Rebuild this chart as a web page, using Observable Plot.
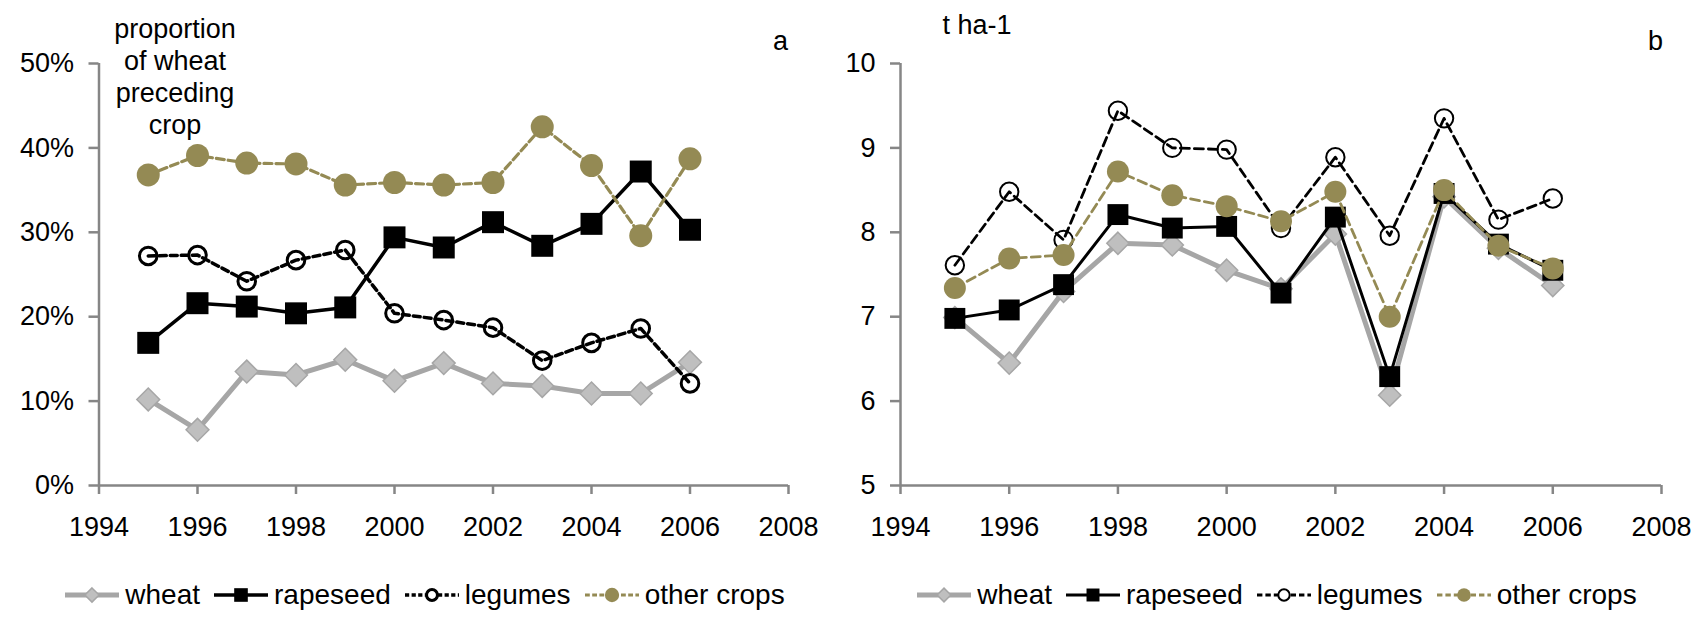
<!DOCTYPE html>
<html><head><meta charset="utf-8">
<script src="https://cdn.jsdelivr.net/npm/d3@7"></script>
<script src="https://cdn.jsdelivr.net/npm/@observablehq/plot@0.6"></script>
<style>
body{margin:0;background:#fff;font-family:"Liberation Sans",Arial,sans-serif;}
#wrap{display:flex;width:1700px;height:620px;overflow:hidden}
.panel{height:620px;}
.legend{display:flex;justify-content:center;align-items:center;height:50px;font-size:28px;color:#000;white-space:nowrap}
.legend .item{display:flex;align-items:center;margin:0 7px}
.legend svg{margin-right:6px}
</style></head><body><div id="wrap"></div>
<script>
const years = [1995,1996,1997,1998,1999,2000,2001,2002,2003,2004,2005,2006];
const seriesNames = ["wheat","rapeseed","legumes","other crops"];
const xTicks = [1994,1996,1998,2000,2002,2004,2006,2008];
const shareTicks = [0,0.1,0.2,0.3,0.4,0.5];
const yieldTicks = [5,6,7,8,9,10];

// panel a: proportion of wheat preceding crop
const shareWheat    = [0.102,0.066,0.135,0.131,0.149,0.124,0.145,0.121,0.118,0.109,0.109,0.146];
const shareRapeseed = [0.169,0.216,0.212,0.204,0.211,0.294,0.282,0.312,0.284,0.310,0.372,0.303];
const shareLegumes  = [0.272,0.273,0.242,0.267,0.279,0.204,0.196,0.187,0.148,0.169,0.186,0.121];
const shareOther    = [0.368,0.391,0.382,0.381,0.356,0.359,0.356,0.359,0.425,0.379,0.296,0.387];

// panel b: yield, t ha-1
const yieldWheat    = [6.99,6.45,7.30,7.87,7.85,7.55,7.33,7.98,6.07,8.42,7.81,7.37];
const yieldRapeseed = [6.98,7.08,7.38,8.21,8.05,8.07,7.28,8.18,6.29,8.46,7.86,7.55];
const yieldLegumes  = [7.61,8.48,7.91,9.44,9.00,8.98,8.05,8.89,7.96,9.35,8.15,8.40];
const yieldOther    = [7.34,7.69,7.73,8.72,8.44,8.31,8.13,8.48,7.00,8.50,7.84,7.57];

const OLIVE = "#948A54", GRAY_LINE = "#A6A6A6", GRAY_FILL = "#BFBFBF", AXIS = "#868686";
const FONT = "'Liberation Sans', Arial, sans-serif";

function rows(arrays){
  const out = [];
  arrays.forEach((vals, i) => vals.forEach((v, j) => out.push({series: seriesNames[i], year: years[j], value: v})));
  return out;
}

function styles(panel){
  const a = panel === "a";
  return {
    "wheat":      {stroke: GRAY_LINE, sw: 5, dash: null, symbol: "diamond2", r: a ? 10.3 : 10, fill: GRAY_FILL, mstroke: GRAY_LINE, msw: 1.5},
    "rapeseed":   {stroke: "#000", sw: a ? 3.5 : 3, dash: null, symbol: "square", r: a ? 12.4 : 11.8, fill: "#000", mstroke: "none", msw: 0},
    "legumes":    {stroke: "#000", sw: a ? 3.5 : 2.8, dash: a ? "7,4" : "9,5", symbol: "circle", r: a ? 8.8 : 9.2, fill: "none", mstroke: "#000", msw: a ? 3 : 2},
    "other crops":{stroke: OLIVE, sw: a ? 3.2 : 2.8, dash: a ? "8,4" : "9,5", symbol: "circle", r: a ? 11.5 : 11, fill: OLIVE, mstroke: "none", msw: 0}
  };
}

function panel({data, width, yDomain, yTicks, yFormat, marginLeft, marginRight, st, notes}){
  const marks = [];
  for (const s of seriesNames){
    const d = data.filter(r => r.series === s);
    const o = st[s];
    marks.push(Plot.line(d, {x: "year", y: "value", stroke: o.stroke, strokeWidth: o.sw, strokeDasharray: o.dash, strokeLinejoin: "round"}));
    marks.push(Plot.dot(d, {x: "year", y: "value", symbol: () => o.symbol, r: o.r, fill: o.fill, stroke: o.mstroke, strokeWidth: o.msw}));
  }
  return Plot.plot({
    width, height: 570,
    marginLeft, marginRight, marginTop: 63, marginBottom: 85,
    style: {fontFamily: FONT, fontSize: "27px", color: "#000", background: "#fff"},
    x: {domain: [1994, 2008]},
    y: {domain: yDomain},
    marks: [
      Plot.ruleX([1994], {stroke: AXIS, strokeWidth: 2.5}),
      Plot.ruleY([yDomain[0]], {stroke: AXIS, strokeWidth: 2.5}),
      Plot.axisY({ticks: yTicks, tickFormat: yFormat, tickSize: 10, tickPadding: 15, stroke: AXIS, strokeWidth: 2.5, fill: "#000", fontSize: 27, label: null}),
      Plot.axisX({ticks: xTicks, tickFormat: d3.format("d"), tickSize: 9, tickPadding: 22, stroke: AXIS, strokeWidth: 2.5, fill: "#000", fontSize: 27, label: null}),
      ...notes,
      ...marks
    ]
  });
}

function legend(st, shift){
  const div = d3.create("div").attr("class", "legend").style("padding-left", shift + "px");
  for (const s of seriesNames){
    const o = st[s];
    const item = div.append("div").attr("class", "item");
    const svg = item.append("svg").attr("width", 54).attr("height", 30);
    svg.append("line").attr("x1", 0).attr("x2", 54).attr("y1", 15).attr("y2", 15)
      .attr("stroke", o.stroke).attr("stroke-width", o.sw)
      .attr("stroke-dasharray", o.dash ? o.dash.split(",").map(v => v*0.6).join(",") : null);
    const type = {diamond2: d3.symbolDiamond2, square: d3.symbolSquare, circle: d3.symbolCircle}[o.symbol];
    svg.append("path").attr("transform", "translate(27,15)")
      .attr("d", d3.symbol(type, Math.PI * (o.r * 0.62) ** 2)())
      .attr("fill", o.fill === "none" ? "#fff" : o.fill).attr("stroke", o.mstroke).attr("stroke-width", o.msw);
    item.append("span").text(s);
  }
  return div.node();
}

const wrap = document.getElementById("wrap");

const stA = styles("a");
const pA = document.createElement("div"); pA.className = "panel"; pA.style.width = "840px";
pA.appendChild(panel({
  data: rows([shareWheat, shareRapeseed, shareLegumes, shareOther]),
  width: 840,
  yDomain: [0, 0.5], yTicks: shareTicks, yFormat: d3.format(".0%"),
  marginLeft: 98.5, marginRight: 52, st: stA,
  notes: [
    Plot.text(["proportion\nof wheat\npreceding\ncrop"], {frameAnchor: "top-left", dx: 76, dy: -48, textAnchor: "middle", lineAnchor: "top", lineHeight: 1.18, fontSize: 27}),
    Plot.text(["a"], {frameAnchor: "top-right", dx: -8, dy: -14, textAnchor: "middle", lineAnchor: "bottom", fontSize: 27})
  ]
}));
pA.appendChild(legend(stA, 10));
wrap.appendChild(pA);

const stB = styles("b");
const pB = document.createElement("div"); pB.className = "panel"; pB.style.width = "860px";
pB.appendChild(panel({
  data: rows([yieldWheat, yieldRapeseed, yieldLegumes, yieldOther]),
  width: 860,
  yDomain: [5, 10], yTicks: yieldTicks, yFormat: d3.format("d"),
  marginLeft: 60, marginRight: 39, st: stB,
  notes: [
    Plot.text(["t ha-1"], {frameAnchor: "top-left", dx: 42, dy: -30, textAnchor: "start", lineAnchor: "bottom", fontSize: 27}),
    Plot.text(["b"], {frameAnchor: "top-right", dx: -6, dy: -14, textAnchor: "middle", lineAnchor: "bottom", fontSize: 27})
  ]
}));
pB.appendChild(legend(stB, 14));
wrap.appendChild(pB);
</script></body></html>
